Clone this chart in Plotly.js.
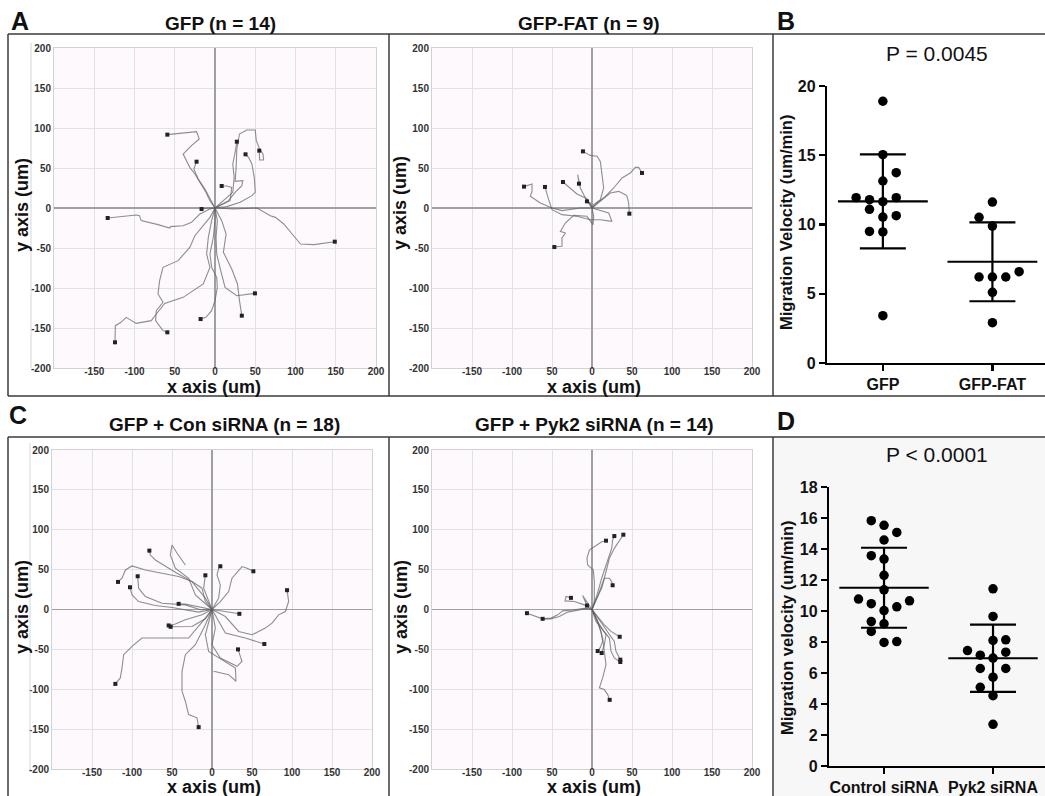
<!DOCTYPE html>
<html><head><meta charset="utf-8">
<script src="https://cdn.plot.ly/plotly-3.0.1.min.js"></script>
<style>html,body{margin:0;padding:0;background:#fff}#chart{width:1045px;height:796px}</style>
</head><body><div id="chart"></div>
<script>
// ---------------- DATA ----------------
const axisTicks = [-200,-150,-100,-50,0,50,100,150,200];
// the x "-200" label coincides with the y "-200" label in the corner, so it is shown once
const xTickText = ['','-150','-100','50','0','50','100','150','200'];
const yTickText = ['-200','-150','-100','-50','0','50','100','150','200'];

// Panel A left: GFP (n = 14) trajectories (um)
const gfpTrackX = [
  [0,-6.3,-11.3,-18.8,-25,-31.3,-34.6,-39.6,-29.2,-19.6,-22.9,-59.2],
  [0,-6.3,-12.5,-20.8,-26.3,-22.9],
  [0,12.5,22.1,23.8,22.1,25,27.1],
  [0,16.7,25,33.3,34.6,25,26.3,27.1,30.4,39.6,50,51.3,55.4,59.6,60.4,55.4,55],
  [0,14.6,31.3,45.8,50,48.8,45.8,41.7,37.9],
  [0,18.8,20.8,14.6,8.3],
  [0,-8.3,-16.7],
  [0,-6.3,-18.8,-29.2,-39.6,-55.4,-56.3,-70.8,-91.7,-93.8,-97.9,-118.8,-133.3],
  [0,22.9,52.1,68.8,75,85.4,95.8,106.3,122.9,139.6,148.8],
  [0,2.9,1.3,2.1,7.1,12.5,27.1,39.6,49.6],
  [0,8.3,13.8,10.4,20.8,27.9,30.4,33.3],
  [0,0,-2.1,-6.3,-4.2,2.1,2.9,0,-4.2,-11.3,-17.9],
  [0,-6.3,-25,-31.3,-45.8,-64.6,-68.8,-70.8,-64.6,-72.9,-73.8,-64.6,-59.2],
  [0,-4.2,-8.3,-10.4,-6.3,-14.6,-39.6,-62.5,-72.9,-79.2,-97.9,-110.4,-116.7,-123.8,-124.2]
];
const gfpTrackY = [
  [0,9.2,19.6,32.1,42.5,50.8,57.1,67.5,77.9,86.3,95.4,91.7],
  [0,11.3,23.8,36.3,48.8,57.9],
  [0,11.3,19.6,38.3,55,69.6,82.9],
  [0,9.2,19.6,27.9,34.2,33.3,50.8,73.8,92.5,97.5,97.5,84.2,73.8,67.5,60,60,71.7],
  [0,1.7,7.1,15.4,19.6,38.3,55,63.3,67.1],
  [0,9.2,25.8,27.5,27.5],
  [0,0,-1.3],
  [0,-1.3,-7.5,-17.9,-22.1,-23.3,-25,-20.8,-15.8,-9.6,-8.8,-10.8,-12.5],
  [0,-1.3,0,-9.6,-11.7,-20,-32.5,-45,-45.8,-42.9,-42.1],
  [0,-15.8,-36.7,-57.5,-78.3,-99.2,-109.6,-107.5,-106.7],
  [0,-15.8,-32.5,-55.4,-76.3,-95,-115.8,-134.6],
  [0,-15.8,-36.7,-57.5,-74.2,-86.7,-99.2,-115.8,-128.3,-136.7,-138.8],
  [0,-11.7,-34.6,-49.2,-65.8,-74.2,-90.8,-107.5,-117.9,-128.3,-140.8,-153.3,-155.4],
  [0,-15.8,-36.7,-57.5,-74.2,-95,-111.7,-119.2,-132.5,-140.8,-144.2,-136.7,-142.9,-147.1,-167.9]
];

// Panel A right: GFP-FAT (n = 9)
const fatTrackX = [
  [0,2.1,10.4,14.6,12.5,10.4,6.3,-2.1,-11.3],
  [0,6.3,16.7,27.1,37.5,47.9,54.2,58.3,62.5],
  [0,10.4,22.9,33.3,41.7,43.8,45.8,46.7],
  [0,-7.1,-14.6,-17.9,-16.3],
  [0,-6.3,-18.8,-36.3],
  [0,20.8,25,10.4,-2.1,-18.8,-37.5,-50,-54.2,-58.8],
  [0,-14.6,-37.5,-50,-64.6,-77.1,-75,-75,-85],
  [0,-2.1,-6.3],
  [0,2.1,1.3,-6.3,-22.9,-33.3,-39.6,-33.3,-37.5,-37.5,-47.1]
];
const fatTrackY = [
  [0,4.2,10.4,25,41.7,58.3,64.6,65.8,70.8],
  [0,6.3,14.6,25,37.5,43.8,50.8,50.8,43.8],
  [0,8.3,18.8,20.8,16.7,14.6,6.3,-7.1],
  [0,10.4,25,41.7,30.4],
  [0,11.7,17.5,32.5],
  [0,-6.3,-16.7,-14.6,-14.6,-10.4,-8.3,-2.1,10.4,26.3],
  [0,0,-3.3,0,6.3,14.6,20.8,30,26.7],
  [0,6.3,8.3],
  [0,-10.4,-20.8,-10.4,-9.2,-18.8,-29.2,-31.3,-37.5,-47.9,-48.8]
];

// Panel C left: GFP + Con siRNA (n = 18)
const conTrackX = [
  [0,-8.3,-12.5,-25,-43.8,-58.3,-70.8,-77.1,-78.3],
  [0,8.3,10.4,6.3,8.3,10.4],
  [0,10.4,20.8,25,37.5,43.8,51.7],
  [0,-4.2,-10.4,-8.3],
  [0,-14.6,-33.3,-62.5,-83.3,-91.7,-92.9],
  [0,-8.3,-25,-41.7,-62.5,-83.3,-100,-108.3,-112.5,-117.5],
  [0,-16.7,-50,-70.8,-91.7,-100,-102.5],
  [0,16.7,33.3,50,66.7,75,83.3,91.7,95.8,93.8],
  [0,-16.7,-33.3,-41.7],
  [0,20.8,34.2],
  [0,-12.5,-33.3,-45.8,-54.2],
  [0,-8.3,-25,-51.7],
  [0,8.3,16.7,41.7,65.4],
  [0,4.2,0,10.4,31.3,37.5,32.5],
  [0,-8.3,-29.2,-58.3,-87.5,-100,-110.4,-112.5,-114.6,-120.8],
  [0,-8.3,-20.8,-33.3,-37.5,-37.5,-33.3,-29.2,-18.8,-16.7],
  [0,-8.3,-4.2,16.7,29.2,30,20.8,2.1],
  [0,-20.8,-29.2,-45.8,-52.1,-50,-43.8,-33.3]
];
const conTrackY = [
  [0,10,26.7,35,45.4,53.8,62.1,68.3,73.8],
  [0,14.2,30.8,43.3,51.7,54.2],
  [0,10,22.5,39.2,53.8,51.7,47.9],
  [0,10,26.7,42.9],
  [0,-0.4,5.8,7.9,16.3,26.7,41.7],
  [0,14.2,35,41.3,45.4,49.6,54.6,49.6,39.2,34.6],
  [0,-3.3,2.5,5,10,18.3,27.9],
  [0,-8.8,-27.5,-31.7,-23.3,-17.1,-6.7,-2.5,10,24.2],
  [0,3.8,6.7,7.1],
  [0,-3.3,-5.4],
  [0,-6.7,-12.9,-18.3,-20],
  [0,-11.7,-21.3,-21.7],
  [0,-15,-29.6,-35.8,-43.3],
  [0,-23.3,-44.2,-60.8,-71.3,-65,-50],
  [0,-10.8,-35.8,-35.8,-35.8,-46.3,-56.7,-73.3,-85.8,-93.3],
  [0,-19.2,-44.2,-56.7,-77.5,-102.5,-115,-131.7,-135.8,-147.5],
  [0,-31.7,-52.5,-65,-73.3,-90,-81.7,-77.5],
  [0,18.3,39.2,51.7,68.3,80.8,70.8,55.8]
];
const conNoEndDot = [16, 17];

// Panel C right: GFP + Pyk2 siRNA (n = 14)
const pykTrackX = [
  [0,2.9,2.9,1.7,-5.4,-6.3,-3.3,5,12.1,17.5],
  [0,6.3,12.1,18.8,24.6,25.8,27.9],
  [0,7.1,15.4,21.7,27.9,34.2,39.2],
  [0,5,12.1,15.4,21.7,24.6,25.8],
  [0,-9.6,-22.1,-33.8,-32.5,-26.3],
  [0,-11.7,-6.3],
  [0,-7.5,-22.1,-36.7,-42.9,-51.3,-61.7,-72.1,-81.3],
  [0,-9.6,-30.4,-40.8,-51.3,-61.7],
  [0,7.1,15.4,23.8,34.6],
  [0,5,11.3,13.3,10.4,7.1],
  [0,7.1,17.5,15.4,12.1],
  [0,9.2,19.6,27.9,30,35.4],
  [0,5,21.7,23.8,27.9,35.4],
  [0,7.1,13.3,15.4,17.5,13.3,9.2,15.4,19.6,22.1]
];
const pykTrackY = [
  [0,10,35,49.6,55.8,64.2,74.6,80.8,85,86.3],
  [0,18.3,39.2,60,76.7,87.1,92.1],
  [0,16.3,39.2,64.2,76.7,87.1,93.8],
  [0,12.1,26.7,39.2,39.2,35,30.4],
  [0,5.8,10,10.8,16.3,14.6],
  [0,17.5,5],
  [0,1.7,-0.4,-1.7,-6.7,-10.8,-11.7,-7.5,-4.6],
  [0,0.8,-3.3,-8.8,-11.7,-11.7],
  [0,-8.8,-19.2,-27.5,-34.2],
  [0,-10.8,-27.5,-40,-47.5,-52.1],
  [0,-15,-31.7,-44.2,-54.6],
  [0,-12.9,-27.5,-40,-52.5,-62.9],
  [0,-15,-35.8,-52.5,-60.8,-65.8],
  [0,-15,-35.8,-52.5,-69.2,-85.8,-98.3,-100.4,-106.7,-113.3]
];

// Panel B: migration velocity (um/min)
const bCategories = ['GFP', 'GFP-FAT'];
const gfpVelocity = [18.9,15.04,13.74,13.14,11.94,11.94,11.79,11.65,11.1,10.64,10.54,9.5,9.46,3.42];
const gfpSlot     = [0,0,1,0,-2,1,-1,0,-1,1,0,-1,0,0];
const fatVelocity = [11.62,10.52,9.89,6.59,6.21,6.21,6.21,5.1,2.91];
const fatSlot     = [0,-1,0,2,-1,0,1,0,0];
const bMean = [11.67, 7.31];
const bSD   = [3.40, 2.85];

// Panel D: migration velocity (um/min)
const dCategories = ['Control siRNA', 'Pyk2 siRNA'];
const ctrlVelocity = [15.83,15.53,15.07,14.58,13.57,13.35,12.3,11.37,10.77,10.66,10.47,10.27,10.03,9.32,9.17,8.68,7.97,8.03];
const ctrlSlot     = [-1,0,1,0,-1,0,0,0,-2,2,-1,1,0,-1,0,-1,0,1];
const pykVelocity  = [11.43,9.65,8.1,8.14,7.45,7.15,7.34,6.96,6.29,6.29,5.73,5.08,4.54,2.69];
const pykSlot      = [0,0,0,1,-2,-1,1,0,-1,1,0,-1,0,0];
const dMean = [11.5, 6.95];
const dSD   = [2.58, 2.17];

// ---------------- BUILD ----------------
const W = 1045, H = 796;
const X = px => px / W;
const Y = py => 1 - py / H;
const FONT = 'Liberation Sans, Arial, Helvetica, sans-serif';
const traces = [];

function addTracks(xs, ys, xa, ya, noDot) {
  noDot = noDot || [];
  xs.forEach((tx, i) => {
    traces.push({type:'scatter', mode:'lines', x:tx, y:ys[i], xaxis:xa, yaxis:ya,
      line:{color:'rgba(95,95,95,0.7)', width:1.1}, hoverinfo:'skip', showlegend:false});
  });
  const ex = [], ey = [];
  xs.forEach((tx, i) => {
    if (noDot.indexOf(i) < 0) { ex.push(tx[tx.length-1]); ey.push(ys[i][ys[i].length-1]); }
  });
  traces.push({type:'scatter', mode:'markers', x:ex, y:ey, xaxis:xa, yaxis:ya,
    marker:{symbol:'square', size:4, color:'#222'}, showlegend:false, hoverinfo:'skip'});
}
addTracks(gfpTrackX, gfpTrackY, 'x', 'y');
addTracks(fatTrackX, fatTrackY, 'x2', 'y2');
addTracks(conTrackX, conTrackY, 'x4', 'y4', conNoEndDot);
addTracks(pykTrackX, pykTrackY, 'x5', 'y5');

function addDotPlot(groups, slots, means, sds, xa, ya, slotW) {
  groups.forEach((vals, g) => {
    const c = g + 1;
    traces.push({type:'scatter', mode:'markers', x: vals.map((v,i)=> c + slots[g][i]*slotW), y: vals,
      xaxis:xa, yaxis:ya, marker:{size:9.5, color:'#000'}, cliponaxis:false, showlegend:false});
    traces.push({type:'scatter', mode:'lines', x:[c-0.41, c+0.41], y:[means[g], means[g]],
      xaxis:xa, yaxis:ya, line:{color:'#000', width:2.2}, showlegend:false, hoverinfo:'skip'});
  });
  traces.push({type:'scatter', mode:'markers', x:[1,2], y:means, xaxis:xa, yaxis:ya,
    marker:{size:1, color:'rgba(0,0,0,0)'},
    error_y:{type:'data', array:sds, symmetric:true, width:23, thickness:2.2, color:'#000'},
    showlegend:false, hoverinfo:'skip'});
}
addDotPlot([gfpVelocity, fatVelocity], [gfpSlot, fatSlot], bMean, bSD, 'x3', 'y3', 0.122);
addDotPlot([ctrlVelocity, pykVelocity], [ctrlSlot, pykSlot], dMean, dSD, 'x6', 'y6', 0.117);

function trajAxis(d0, d1, anchor, isX) {
  const a = {domain:[d0, d1], anchor:anchor, range:[-200,200], tickmode:'array', tickvals:axisTicks,
    ticktext: isX ? xTickText : yTickText, showgrid:true, gridcolor:'#e2e2e2', gridwidth:1,
    zeroline:true, zerolinecolor:'#a0a0a0', zerolinewidth:1.5, showline:true, mirror:true,
    linecolor:'#d2d2d2', linewidth:1, ticks:'', fixedrange:true,
    tickfont:{family:FONT, size:10, color:'#333', weight:'bold'}};
  if (isX) a.ticklabelstandoff = -6;
  return a;
}
function dotAxisX(d0, d1, anchor, range, labels) {
  return {domain:[d0, d1], anchor:anchor, range:range, tickmode:'array', tickvals:[1,2], ticktext:labels,
    showgrid:false, zeroline:false, showline:true, linecolor:'#000', linewidth:2.2,
    ticks:'outside', ticklen:6, tickwidth:2.2, tickcolor:'#000', fixedrange:true,
    tickfont:{family:FONT, size:16, color:'#111', weight:'bold'}};
}
function dotAxisY(d0, d1, anchor, range, dtick) {
  return {domain:[d0, d1], anchor:anchor, range:range, dtick:dtick, tick0:0,
    showgrid:false, zeroline:false, showline:true, linecolor:'#000', linewidth:2.2,
    ticks:'outside', ticklen:6, tickwidth:2.2, tickcolor:'#000', fixedrange:true,
    tickfont:{family:FONT, size:16, color:'#111', weight:'bold'}};
}

const topY = [Y(368), Y(48)], botY = [Y(769), Y(450)];

function ann(text, px, py, size, opts) {
  return Object.assign({text:text, x:X(px), y:Y(py), xref:'paper', yref:'paper', showarrow:false,
    xanchor:'center', yanchor:'middle', font:{family:FONT, size:size, color:'#111', weight:'bold'}}, opts || {});
}

const annotations = [
  ann('A', 20, 21, 25), ann('B', 786, 21, 25), ann('C', 18, 415, 25), ann('D', 786, 421, 25),
  ann('GFP (n = 14)', 220, 23, 19), ann('GFP-FAT (n = 9)', 589, 23, 19),
  ann('GFP + Con siRNA (n = 18)', 224, 424, 19), ann('GFP + Pyk2 siRNA (n = 14)', 594, 424, 19),
  ann('x axis (um)', 214, 387, 18), ann('x axis (um)', 594, 387, 18),
  ann('x axis (um)', 214, 787, 18), ann('x axis (um)', 594, 787, 18),
  ann('y axis (um)', 22, 205, 18, {textangle:-90}), ann('y axis (um)', 400, 203, 18, {textangle:-90}),
  ann('y axis (um)', 22, 607, 18, {textangle:-90}), ann('y axis (um)', 401, 607, 18, {textangle:-90}),
  ann('P = 0.0045', 937, 53, 21, {font:{family:FONT, size:21, color:'#111'}}),
  ann('P < 0.0001', 937, 455, 21, {font:{family:FONT, size:21, color:'#111'}}),
  ann('Migration Velocity (um/min)', 786, 223, 16.5, {textangle:-90}),
  ann('Migration velocity (um/min)', 787, 628, 16.5, {textangle:-90})
];

function pline(x0, y0, x1, y1, color, width) {
  return {type:'line', xref:'paper', yref:'paper', x0:X(x0), y0:Y(y0), x1:X(x1), y1:Y(y1),
    line:{color:color, width:width}, layer:'above'};
}
function bgRect(xr, yr, color) {
  return {type:'rect', xref:xr, yref:yr, x0:-200, x1:200, y0:-200, y1:200, fillcolor:color,
    line:{width:0}, layer:'below'};
}
const FR = '#3a3a3a';
const shapes = [
  {type:'rect', xref:'paper', yref:'paper', x0:X(774), x1:1, y0:0, y1:Y(437), fillcolor:'#f7f7f7', line:{width:0}, layer:'below'},
  bgRect('x','y','#fdf9fd'), bgRect('x2','y2','#fdf9fd'), bgRect('x4','y4','#fdf9fd'), bgRect('x5','y5','#fdf9fd'),
  pline(8,34,1045,34,FR,1.5), pline(8,396,1045,396,FR,1.5),
  pline(8,34,8,396,FR,1.5), pline(389,34,389,396,FR,1.5), pline(773,34,773,396,FR,1.5),
  pline(8,437,1045,437,FR,1.5),
  pline(8,437,8,796,FR,1.5), pline(389,437,389,796,FR,1.5), pline(773,437,773,796,FR,1.5),
  pline(31,43,31,368,'#d6d6d6',1), pline(30,443,30,770,'#d6d6d6',1)
];

const layout = {
  width:W, height:H, margin:{l:0, r:0, t:0, b:0}, paper_bgcolor:'#fff', plot_bgcolor:'rgba(0,0,0,0)',
  showlegend:false, font:{family:FONT},
  xaxis:  trajAxis(X(54), X(376), 'y', true),
  yaxis:  trajAxis(topY[0], topY[1], 'x', false),
  xaxis2: trajAxis(X(432), X(752), 'y2', true),
  yaxis2: trajAxis(topY[0], topY[1], 'x2', false),
  xaxis3: dotAxisX(X(827), 1, 'y3', [0.49, 2.48], bCategories),
  yaxis3: dotAxisY(Y(363), Y(86), 'x3', [0, 20], 5),
  xaxis4: trajAxis(X(52), X(372), 'y4', true),
  yaxis4: trajAxis(botY[0], botY[1], 'x4', false),
  xaxis5: trajAxis(X(432), X(752), 'y5', true),
  yaxis5: trajAxis(botY[0], botY[1], 'x5', false),
  xaxis6: dotAxisX(X(829), 1, 'y6', [0.495, 2.477], dCategories),
  yaxis6: dotAxisY(Y(766), Y(487), 'x6', [0, 18], 2),
  annotations:annotations, shapes:shapes
};

Plotly.newPlot('chart', traces, layout, {staticPlot:true, displayModeBar:false});
</script>
</body></html>
